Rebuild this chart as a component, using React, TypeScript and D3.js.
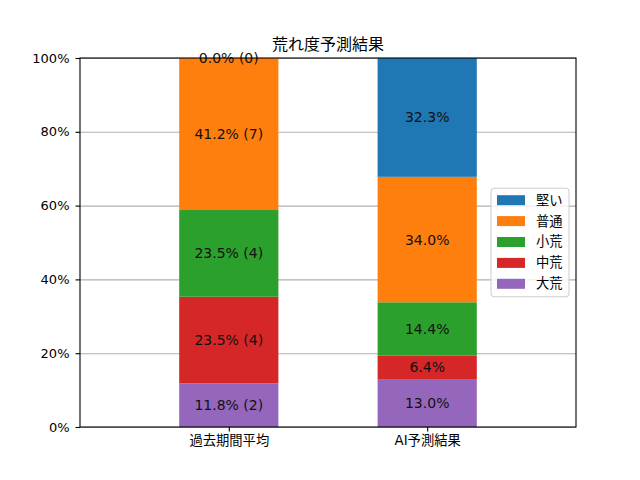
import { useEffect, useRef } from "react";
import * as d3 from "d3";

// ── Data ──────────────────────────────────────────────────────────────────────

const CATEGORIES = ["過去期間平均", "AI予測結果"];
// stack order, bottom → top
const SERIES = ["大荒", "中荒", "小荒", "普通", "堅い"];
const COLORS = ["#9467bd", "#d62728", "#2ca02c", "#ff7f0e", "#1f77b4"];

const PAST_PCT = [11.8, 23.5, 23.5, 41.2, 0.0];
const PAST_COUNT = [2, 4, 4, 7, 0];
const AI_PCT = [13.0, 6.4, 14.4, 34.0, 32.3];

const Y_TICKS = [0, 20, 40, 60, 80, 100];
const TITLE = "荒れ度予測結果";

const FONT = "'DejaVu Sans', 'Noto Sans CJK JP', sans-serif";

export default function App() {
  const svgRef = useRef<SVGSVGElement>(null);

  useEffect(() => {
    if (!svgRef.current) return;
    const W = 640, H = 480;
    const m = { top: 58, right: 64, bottom: 53, left: 80 };
    const iw = W - m.left - m.right;
    const ih = H - m.top - m.bottom;

    const svg = d3.select(svgRef.current);
    svg.selectAll("*").remove();
    svg.attr("viewBox", `0 0 ${W} ${H}`);

    const g = svg.append("g").attr("transform", `translate(${m.left},${m.top})`);

    g.append("clipPath").attr("id", "plot-clip")
      .append("rect").attr("width", iw).attr("height", ih);

    const x = d3.scaleLinear().domain([-0.75, 1.75]).range([0, iw]);
    const y = d3.scaleLinear().domain([0, 100]).range([ih, 0]);
    const barW = x(0.5) - x(0);

    // Grid lines
    g.append("g")
      .call(d3.axisLeft(y).tickValues(Y_TICKS).tickSize(-iw).tickFormat(() => ""))
      .call(gg => gg.select(".domain").remove())
      .call(gg => gg.selectAll("line").attr("stroke", "#b0b0b0").attr("stroke-width", 1.1));

    const rows = [
      { pct: PAST_PCT, label: (i: number) => `${PAST_PCT[i].toFixed(1)}% (${PAST_COUNT[i]})` },
      { pct: AI_PCT, label: (i: number) => `${AI_PCT[i].toFixed(1)}%` },
    ];

    const bars = g.append("g").attr("clip-path", "url(#plot-clip)");
    const labels = g.append("g");

    rows.forEach((row, ci) => {
      let base = 0;
      row.pct.forEach((v, si) => {
        const y0 = base, y1 = base + v;
        bars.append("rect")
          .attr("x", x(ci) - barW / 2)
          .attr("y", y(y1))
          .attr("width", barW)
          .attr("height", y(y0) - y(y1))
          .attr("fill", COLORS[si]);
        labels.append("text")
          .attr("x", x(ci))
          .attr("y", y((y0 + y1) / 2))
          .attr("text-anchor", "middle")
          .attr("dominant-baseline", "central")
          .attr("font-family", FONT)
          .attr("font-size", "14px")
          .attr("fill", "#111")
          .text(row.label(si));
        base = y1;
      });
    });

    // Frame
    g.append("rect")
      .attr("width", iw).attr("height", ih)
      .attr("fill", "none").attr("stroke", "#000").attr("stroke-width", 1.1);

    // X axis
    g.append("g")
      .attr("transform", `translate(0,${ih})`)
      .call(d3.axisBottom(x).tickValues([0, 1]).tickFormat(d => CATEGORIES[+d]).tickSize(4.5).tickPadding(4.5))
      .call(gg => gg.select(".domain").remove())
      .call(gg => gg.selectAll("line").attr("stroke", "#000").attr("stroke-width", 1.1))
      .call(gg => gg.selectAll("text")
        .attr("fill", "#000").attr("font-size", "13.3px").attr("font-family", FONT));

    // Y axis
    g.append("g")
      .call(d3.axisLeft(y).tickValues(Y_TICKS).tickFormat(d => `${d}%`).tickSize(4.5).tickPadding(6))
      .call(gg => gg.select(".domain").remove())
      .call(gg => gg.selectAll("line").attr("stroke", "#000").attr("stroke-width", 1.1))
      .call(gg => gg.selectAll("text")
        .attr("fill", "#000").attr("font-size", "13px").attr("font-family", FONT));

    // Title
    svg.append("text")
      .attr("x", m.left + iw / 2)
      .attr("y", m.top - 8)
      .attr("text-anchor", "middle")
      .attr("font-family", FONT)
      .attr("font-size", "16px")
      .attr("fill", "#000")
      .text(TITLE);

    // Legend (center right), reversed order
    const legendItems = SERIES.map((s, i) => ({ s, c: COLORS[i] })).reverse();
    const LW = 78, ROW = 20.9;
    const LH = (legendItems.length - 1) * ROW + 25;
    const lx = iw - 7 - LW;
    const ly = ih / 2 - LH / 2;
    const lg = g.append("g").attr("transform", `translate(${lx},${ly})`);
    lg.append("rect")
      .attr("width", LW).attr("height", LH).attr("rx", 3)
      .attr("fill", "#fff").attr("fill-opacity", 0.8)
      .attr("stroke", "#cccccc").attr("stroke-width", 1);
    legendItems.forEach((d, i) => {
      const cy = 12 + i * ROW;
      lg.append("rect")
        .attr("x", 6).attr("y", cy - 5).attr("width", 28).attr("height", 10)
        .attr("fill", d.c);
      lg.append("text")
        .attr("x", 45).attr("y", cy)
        .attr("dominant-baseline", "central")
        .attr("font-family", FONT)
        .attr("font-size", "13.3px")
        .attr("fill", "#000")
        .text(d.s);
    });
  }, []);

  return (
    <>
      <style>{"body{margin:0;background:#fff}"}</style>
      <svg ref={svgRef} width={640} height={480} style={{ display: "block" }} />
    </>
  );
}
